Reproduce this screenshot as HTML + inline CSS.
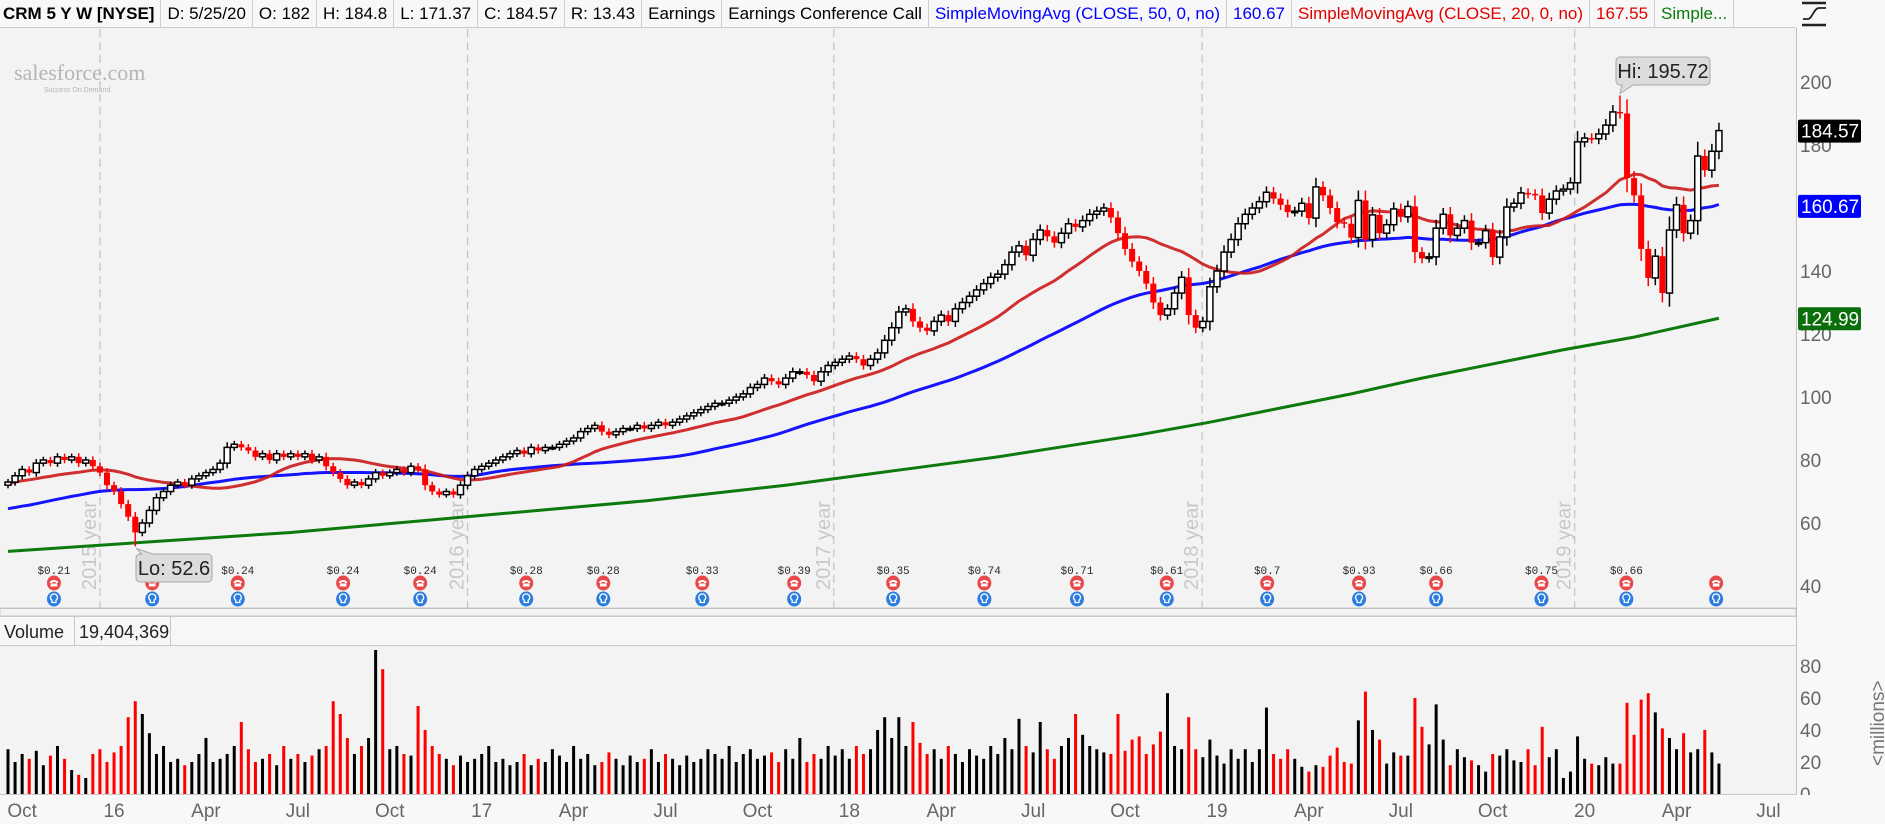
<!DOCTYPE html>
<html><head><meta charset="utf-8"><style>
html,body{margin:0;padding:0;width:1885px;height:824px;overflow:hidden;background:#f8f8f8;font-family:"Liberation Sans",sans-serif}
#hdr{position:absolute;left:0;top:0;width:1796px;height:28px;display:flex;align-items:center;font-size:17px;white-space:nowrap;border-bottom:1px solid #c8c8c8;background:#f8f8f8;box-sizing:border-box}
#hdr span{padding:0 6px;border-right:1px solid #cfcfcf;height:28px;line-height:28px}
svg{position:absolute;left:0;top:0}
</style></head><body>
<div id="hdr">
<span style="font-weight:bold;padding-left:3px">CRM 5 Y W [NYSE]</span>
<span>D: 5/25/20</span>
<span>O: 182</span>
<span>H: 184.8</span>
<span>L: 171.37</span>
<span>C: 184.57</span>
<span>R: 13.43</span>
<span>Earnings</span>
<span>Earnings Conference Call</span>
<span style="color:#0000ff">SimpleMovingAvg (CLOSE, 50, 0, no)</span>
<span style="color:#0000ff">160.67</span>
<span style="color:#e00000">SimpleMovingAvg (CLOSE, 20, 0, no)</span>
<span style="color:#e00000">167.55</span>
<span style="color:#0a7a0a">Simple...</span>
</div>
<svg id="chart" width="1885" height="824" viewBox="0 0 1885 824" style="top:0;pointer-events:none"></svg>
<script>
const priceTicks=[200,180,160,140,120,100,80,60,40];
const volTicks=[80,60,40,20,0];
const xTickLabels=['Oct','16','Apr','Jul','Oct','17','Apr','Jul','Oct','18','Apr','Jul','Oct','19','Apr','Jul','Oct','20','Apr','Jul'];
const yearLabels=['2015 year','2016 year','2017 year','2018 year','2019 year'];
const yearIdx=[13,65,116.8,168.9,221.6];
const priorCloses=[56,57,58,57,56,55,57,58,59,60,58,57,59,61,62,60,58,57,59,60,62,63,64,62,60,58,57,59,62,65,67,68,70,72,71,73,72,74,75,74,73,72,74,73,75,76,74,73,72];
const closes=[73,75,77,76,79,80,79,81,80,81,
79,80,78,76,72,70,66,62,57,60,
64,68,70,72,73,72,74,75,76,77,
79,84,85,84,83,81,82,80,82,81,
82,81,82,80,81,78,76,74,72,73,
72,74,76,75,76,77,76,78,77,72,
70,69,70,69,72,75,77,78,79,80,
81,82,83,82,84,83,84,84,85,86,
87,89,90,91,89,88,89,90,90,91,
90,91,92,91,92,93,94,95,96,97,
98,98,99,100,101,103,104,106,105,104,
106,108,108,107,105,108,110,111,112,113,
112,110,112,114,118,122,127,128,124,122,
121,124,126,124,128,130,132,134,136,138,
139,142,146,148,145,150,153,151,149,152,
155,154,156,158,159,160,157,152,147,143,
140,136,130,126,128,133,138,126,122,124,
135,140,146,150,155,158,160,162,165,163,
161,158.7,159,161.5,156.8,166.7,164,160,155.5,155,
150.6,162.4,150,157.8,152,154.7,159.7,157.2,160.5,146,
144,144.5,153.6,158,151.3,153.6,156,149,149,152.8,
144.4,150.8,160.3,161.5,164.8,164.5,164,158.4,162.8,165.4,
166,168,181,182.2,182,183.5,186.3,190.5,190,169.5,
164,147,137.8,144.7,133,153,161,152,156,176.5,172,178,184.57];
const volumes=[28,20,25,22,27,18,24,30,22,15,
12,10,25,28,20,26,30,48,58,50,
38,25,30,20,22,18,20,25,35,20,
22,25,30,45,28,20,22,25,18,30,
22,25,20,24,28,30,58,50,35,25,
30,35,90,78,28,30,25,24,55,40,
30,25,22,18,24,20,22,25,30,20,
22,18,20,25,18,22,20,28,24,20,
30,22,25,18,20,26,22,18,24,20,
22,28,20,25,22,18,24,20,22,28,
25,22,30,20,25,28,22,24,26,20,
28,22,35,20,25,22,30,24,28,22,
30,25,28,40,48,35,48,30,45,32,
25,28,22,30,25,20,28,24,22,30,
25,35,28,47,30,26,45,28,22,30,
35,50,37,30,28,
26,25,50,27,34,36,25,31,39,63,
30,28,48,28,23,34,24,19,28,22,
28,20,28,54,25,22,28,22,17,14,
18,17,24,29,20,19,46,64,40,34,
19,26,24,24,60,42,31,56,34,18,
28,23,21,18,14,25,24,28,21,20,
28,18,42,23,28,10,14,36,22,19,
18,23,19,19,57,37,59,63,51,41,
35,28,38,26,28,40,26,19];
const sma200Idx=[0,20,40,60,70,80,90,100,110,120,130,140,150,160,170,180,190,200,210,220,230,242];
const sma200Val=[51,54,57,61,63,65,67,69.5,72,75,78,81,84.5,88,92,96.5,101,106,110.5,115,119,125];
const earnIdx=[6.5,20.4,32.5,47.4,58.3,73.3,84.2,98.2,111.2,125.2,138.1,151.2,163.9,178.1,191.1,202,216.9,228.9,241.6];
const earnLabels=['$0.21','','$0.24','$0.24','$0.24','$0.28','$0.28','$0.33','$0.39','$0.35','$0.74','$0.71','$0.61','$0.7','$0.93','$0.66','$0.75','$0.66',''];
const lowValue=52.6, lowIdx=18, highValue=195.72, highIdx=228;

const NS='http://www.w3.org/2000/svg';
const svg=document.getElementById('chart');
const X=i=>8+i*7.07;
const YP=p=>82+(200-p)*3.15;
const YV=v=>794-v*1.6;
function mk(tag,attrs,parent){const e=document.createElementNS(NS,tag);for(const k in attrs)e.setAttribute(k,attrs[k]);(parent||svg).appendChild(e);return e;}

let r=mk('rect',{x:0,y:28,width:1796,height:580,fill:'#f3f3f3'});


r=mk('rect',{x:0,y:608,width:1796,height:8,fill:'#f3f3f3',stroke:'#c8c8c8'});


r=mk('rect',{x:0,y:616,width:1796,height:29,fill:'#f7f7f7'});


r=mk('rect',{x:0,y:645,width:1796,height:149,fill:'#f3f3f3'});


mk('line',{x1:0,y1:608.5,x2:1796,y2:608.5,stroke:'#c0c0c0'});
mk('line',{x1:0,y1:616.5,x2:1796,y2:616.5,stroke:'#c8c8c8'});
mk('line',{x1:0,y1:645.5,x2:1796,y2:645.5,stroke:'#c8c8c8'});
mk('line',{x1:0,y1:794.5,x2:1796,y2:794.5,stroke:'#c8c8c8'});
mk('line',{x1:1796.5,y1:28,x2:1796.5,y2:795,stroke:'#c0c0c0'});

const defs=mk('defs',{});
const cp=mk('clipPath',{id:'pc'},defs);mk('rect',{x:0,y:29,width:1796,height:579},cp);
const cv=mk('clipPath',{id:'vc'},defs);mk('rect',{x:0,y:646,width:1796,height:148},cv);
const gp=mk('g',{'clip-path':'url(#pc)'});
const gv=mk('g',{'clip-path':'url(#vc)'});

yearIdx.forEach((ix,k)=>{
  const x=X(ix);
  const l=mk('line',{x1:x,y1:29,x2:x,y2:608,stroke:'#c4c4c4','stroke-width':1.2,'stroke-dasharray':'8,5'},gp);
  
  
  const t=mk('text',{x:0,y:0,transform:`translate(${x-4},590) rotate(-90)`,'font-size':20,fill:'#c8c8c8','font-family':'Liberation Sans, sans-serif'},gp);
  t.textContent=yearLabels[k];
  
  
});

const all=priorCloses.concat(closes);
function sma(n,i){const j=i+priorCloses.length;const s=Math.max(0,j-n+1);let t=0;for(let q=s;q<=j;q++)t+=all[q];return t/(j-s+1);}
function ptsFor(n){return closes.map((c,i)=>X(i).toFixed(1)+','+YP(sma(n,i)).toFixed(1)).join(' ');}
let pl=mk('polyline',{points:sma200Idx.map((ix,k)=>X(ix)+','+YP(sma200Val[k])).join(' '),fill:'none',stroke:'#0c7a0c','stroke-width':3,'stroke-linejoin':'round'},gp);


pl=mk('polyline',{points:ptsFor(50),fill:'none',stroke:'#1414ff','stroke-width':3,'stroke-linejoin':'round'},gp);


pl=mk('polyline',{points:ptsFor(20),fill:'none',stroke:'#cc1a1a','stroke-width':3,'stroke-linejoin':'round','stroke-opacity':0.9},gp);



closes.forEach((c,i)=>{
  const o=i===0?priorCloses[priorCloses.length-1]:closes[i-1];
  const up=c>=o;
  const col=up?'#000':'#ff0000';
  const w=0.4+0.15*Math.abs(c-o)+0.006*c;
  let hi=Math.max(o,c)+w, lo=Math.min(o,c)-w;
  if(i===lowIdx)lo=lowValue;
  if(i===highIdx)hi=highValue;
  const x=X(i);
  const g=mk('g',{},gp);
  
  
  mk('line',{x1:x,y1:YP(hi),x2:x,y2:YP(lo),stroke:col,'stroke-width':1.5},g);
  const top=YP(Math.max(o,c)),bot=YP(Math.min(o,c));
  mk('rect',{x:x-3,y:top,width:6,height:Math.max(1.5,bot-top),fill:up?'#fff':'#ff0000',stroke:col,'stroke-width':up?1.5:0},g);
  const vb=mk('rect',{x:x-1.5,y:YV(volumes[i]),width:3,height:794-YV(volumes[i]),fill:up?'#000':'#ff0000'},gv);
  
  
});

earnIdx.forEach((ix,k)=>{
  const x=X(ix);
  const g=mk('g',{},gp);
  
  
  if(earnLabels[k]){const t=mk('text',{x:x,y:574,'text-anchor':'middle','font-size':11,fill:'#2a2a2a','font-family':'Liberation Mono, monospace'},g);t.textContent=earnLabels[k];}
  mk('ellipse',{cx:x,cy:583,rx:7,ry:7.5,fill:'#e84848'},g);
  mk('path',{d:`M${x-4.5} ${583-1} q4.5 -4 9 0 l-1.5 1.5 l-1.5 -1 l0 -0.5 l-3 0 l0 0.5 l-1.5 1 z M${x-3} ${583+0.5} l6 0 l0.5 3 l-7 0 z`,fill:'#fff'},g);
  mk('ellipse',{cx:x,cy:599,rx:7,ry:7.5,fill:'#2b7de0'},g);
  mk('path',{d:`M${x} ${594} a3.4 3.4 0 0 1 2 6.2 l0 2.3 l-4 0 l0 -2.3 a3.4 3.4 0 0 1 2 -6.2 z`,fill:'none',stroke:'#fff','stroke-width':1.3},g);
});

function callout(name,txt,bx,by,bw,tipx,tipy,pointerUp){
  const g=mk('g',{});
  
  
  mk('rect',{x:bx,y:by,width:bw,height:28,rx:4,fill:'#dcdcdc',stroke:'#a8a8a8'},g);
  if(pointerUp)mk('path',{d:`M${bx+6} ${by+0.5} L${tipx} ${tipy} L${bx+18} ${by+0.5}`,fill:'#dcdcdc',stroke:'#a8a8a8'},g);
  else mk('path',{d:`M${bx+6} ${by+27.5} L${tipx} ${tipy} L${bx+18} ${by+27.5}`,fill:'#dcdcdc',stroke:'#a8a8a8'},g);
  const t=mk('text',{x:bx+bw/2,y:by+21,'text-anchor':'middle','font-size':20,fill:'#222'},g);t.textContent=txt;
}
callout('low-callout','Lo: '+lowValue,136,554,76,X(lowIdx)+1,YP(lowValue)+2,true);
callout('high-callout','Hi: '+highValue,1616,57,94,X(highIdx),YP(highValue)-2,false);

priceTicks.forEach(p=>{const t=mk('text',{x:1800,y:YP(p)+7,'font-size':19,fill:'#666'});t.textContent=p;

});
volTicks.forEach(v=>{const t=mk('text',{x:1800,y:YV(v)+7,'font-size':19,fill:'#666'});t.textContent=v;

});
mk('rect',{x:1796,y:795,width:89,height:29,fill:'#f8f8f8'});
function tag(name,txt,y,bg){const g=mk('g',{});
mk('rect',{x:1798,y:y-11,width:63,height:23,rx:2,fill:bg},g);const t=mk('text',{x:1801,y:y+7,'font-size':19,fill:'#fff'},g);t.textContent=txt;}
tag('last-price-tag','184.57',YP(184.57),'#000');
tag('sma50-tag','160.67',YP(160.67),'#0000ff');
tag('sma200-tag','124.99',YP(124.99),'#0a6e0a');
let mt=mk('text',{x:0,y:0,transform:'translate(1884,766) rotate(-90)','font-size':19,fill:'#777'});mt.textContent='<millions>';



xTickLabels.forEach((lb,k)=>{const t=mk('text',{x:X(2+13*k),y:817,'text-anchor':'middle','font-size':19,fill:'#666'});t.textContent=lb;

});

let vt=mk('text',{x:4,y:638,'font-size':18,fill:'#222'});vt.textContent='Volume';


mk('line',{x1:74.5,y1:616,x2:74.5,y2:645,stroke:'#c8c8c8'});
vt=mk('text',{x:79,y:638,'font-size':18,fill:'#222'});vt.textContent='19,404,369';


mk('line',{x1:170.5,y1:616,x2:170.5,y2:645,stroke:'#c8c8c8'});

let wm=mk('text',{x:14,y:80,'font-size':22,fill:'#b5b5b5','font-family':'Liberation Serif, serif'});wm.textContent='salesforce.com';


wm=mk('text',{x:44,y:92,'font-size':7,fill:'#b5b5b5'});wm.textContent='Success On Demand.';

const ic=mk('g',{});


mk('line',{x1:1802,y1:3,x2:1826,y2:3,stroke:'#222','stroke-width':2.5},ic);
mk('line',{x1:1802,y1:25,x2:1826,y2:25,stroke:'#222','stroke-width':2.5},ic);
mk('path',{d:'M1803 19 L1808 19 C1812 19 1814 8 1819 8 L1826 8',fill:'none',stroke:'#222','stroke-width':1.8},ic);
</script>
</body></html>
